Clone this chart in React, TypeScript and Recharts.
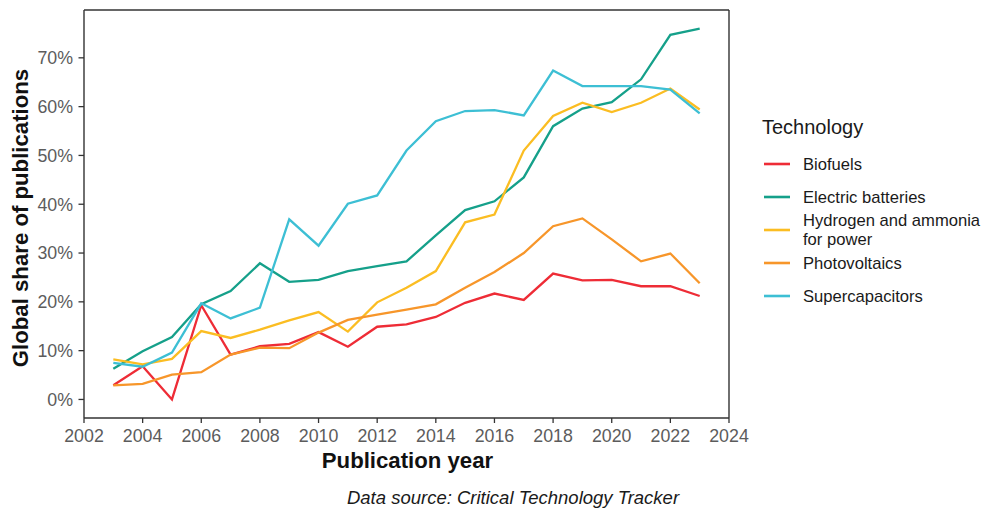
import { Legend, Line, LineChart, ReferenceLine, XAxis, YAxis } from "recharts";

const years = [
  2003, 2004, 2005, 2006, 2007, 2008, 2009, 2010, 2011, 2012, 2013, 2014, 2015, 2016, 2017, 2018,
  2019, 2020, 2021, 2022, 2023,
];

const biofuels = [
  2.9, 6.8, 0, 19.3, 9.2, 10.9, 11.4, 13.8, 10.8, 14.9, 15.4, 16.9, 19.8, 21.7, 20.4, 25.8, 24.4,
  24.5, 23.2, 23.2, 21.2,
];
const electricBatteries = [
  6.3, 9.9, 12.8, 19.5, 22.2, 27.9, 24.1, 24.5, 26.3, 27.3, 28.3, 33.6, 38.8, 40.6, 45.5, 56.0, 59.6,
  60.9, 65.6, 74.7, 76.0,
];
const hydrogen = [
  8.2, 7.2, 8.3, 14.0, 12.6, 14.3, 16.2, 17.9, 13.9, 19.9, 22.9, 26.3, 36.3, 37.9, 51.0, 58.1, 60.8,
  58.9, 60.8, 63.7, 59.4,
];
const photovoltaics = [
  2.9, 3.2, 5.1, 5.6, 9.2, 10.6, 10.5, 13.7, 16.3, 17.4, 18.4, 19.5, 22.9, 26.1, 30.0, 35.5, 37.1,
  32.8, 28.3, 29.9, 23.8,
];
const supercapacitors = [
  7.5, 6.7, 9.6, 19.7, 16.6, 18.8, 36.9, 31.5, 40.1, 41.8, 51.0, 57.0, 59.1, 59.3, 58.2, 67.4, 64.2,
  64.2, 64.2, 63.5, 58.6,
];

const xTicks = [2002, 2004, 2006, 2008, 2010, 2012, 2014, 2016, 2018, 2020, 2022, 2024];
const yTicks = [0, 10, 20, 30, 40, 50, 60, 70];
const X_DOMAIN: [number, number] = [2002, 2024];
const Y_DOMAIN: [number, number] = [-3.8, 79.8];

const series = [
  { key: "biofuels", label: ["Biofuels"], color: "#EE2C36", values: biofuels },
  { key: "electric", label: ["Electric batteries"], color: "#15A08A", values: electricBatteries },
  { key: "hydrogen", label: ["Hydrogen and ammonia", "for power"], color: "#FBBD22", values: hydrogen },
  { key: "pv", label: ["Photovoltaics"], color: "#F7962A", values: photovoltaics },
  { key: "supercap", label: ["Supercapacitors"], color: "#3DBFD4", values: supercapacitors },
];

const data = years.map((year, i) => {
  const row: Record<string, number> = { year };
  series.forEach((s) => {
    row[s.key] = s.values[i];
  });
  return row;
});

const FONT = '"Liberation Sans", Arial, Helvetica, sans-serif';
const FRAME = "#333333";
const TICK_TEXT = "#5c5c5c";

function TechLegend() {
  return (
    <svg width={226} height={200} style={{ overflow: "visible", display: "block" }}>
      <text x={6} y={24} fontSize={20} fill="#1a1a1a" fontFamily={FONT}>
        Technology
      </text>
      {series.map((s, i) => {
        const cy = 54 + i * 33;
        return (
          <g key={s.key}>
            <line x1={8} x2={34} y1={cy} y2={cy} stroke={s.color} strokeWidth={2.6} />
            {s.label.map((line, j) => (
              <text
                key={line}
                x={47}
                y={cy + (j - (s.label.length - 1) / 2) * 18.5}
                dominantBaseline="central"
                fontSize={16.6}
                fill="#1a1a1a"
                fontFamily={FONT}
              >
                {line}
              </text>
            ))}
          </g>
        );
      })}
    </svg>
  );
}

export default function App() {
  return (
    <div
      style={{
        position: "absolute",
        left: 0,
        top: 0,
        width: 982,
        height: 508,
        background: "#fff",
        fontFamily: FONT,
      }}
    >
      <LineChart width={982} height={508} data={data} margin={{ top: 10, right: 253, bottom: 0, left: 0 }}>
        <XAxis
          dataKey="year"
          type="number"
          domain={X_DOMAIN}
          ticks={xTicks}
          interval={0}
          allowDataOverflow
          height={90}
          tickSize={5}
          tickMargin={6}
          tick={{ fill: TICK_TEXT, fontSize: 17.8, fontFamily: FONT }}
          tickLine={{ stroke: FRAME, strokeWidth: 1.3 }}
          axisLine={{ stroke: FRAME, strokeWidth: 1.4 }}
          label={{
            content: () => (
              <text
                x={407.5}
                y={468}
                textAnchor="middle"
                fontSize={22.2}
                fontWeight="bold"
                fill="#111"
                fontFamily={FONT}
              >
                Publication year
              </text>
            ),
          }}
        />
        <YAxis
          type="number"
          domain={Y_DOMAIN}
          ticks={yTicks}
          interval={0}
          allowDataOverflow
          width={84}
          tickSize={5.5}
          tickMargin={5.5}
          tickFormatter={(v: number) => `${v}%`}
          tick={{ fill: TICK_TEXT, fontSize: 17.8, fontFamily: FONT }}
          tickLine={{ stroke: FRAME, strokeWidth: 1.3 }}
          axisLine={{ stroke: FRAME, strokeWidth: 1.4 }}
          label={{
            content: () => (
              <text
                transform="translate(28,218) rotate(-90)"
                textAnchor="middle"
                fontSize={22.2}
                fontWeight="bold"
                fill="#111"
                fontFamily={FONT}
              >
                Global share of publications
              </text>
            ),
          }}
        />
        {/* panel border: top and right edges */}
        <ReferenceLine y={Y_DOMAIN[1]} stroke={FRAME} strokeWidth={1.4} ifOverflow="visible" />
        <ReferenceLine x={X_DOMAIN[1]} stroke={FRAME} strokeWidth={1.4} ifOverflow="visible" />
        {series.map((s) => (
          <Line
            key={s.key}
            dataKey={s.key}
            name={s.label.join(" ")}
            type="linear"
            stroke={s.color}
            strokeWidth={2.3}
            dot={false}
            activeDot={false}
            isAnimationActive={false}
          />
        ))}
        <Legend
          layout="horizontal"
          verticalAlign="middle"
          align="center"
          wrapperStyle={{ left: 756, top: 110, width: 226, height: 200 }}
          content={() => <TechLegend />}
        />
      </LineChart>
      <div
        style={{
          position: "absolute",
          left: 0,
          width: 1026,
          top: 487,
          textAlign: "center",
          fontSize: 18.5,
          fontStyle: "italic",
          color: "#1a1a1a",
          lineHeight: "22px",
        }}
      >
        Data source: Critical Technology Tracker
      </div>
    </div>
  );
}
